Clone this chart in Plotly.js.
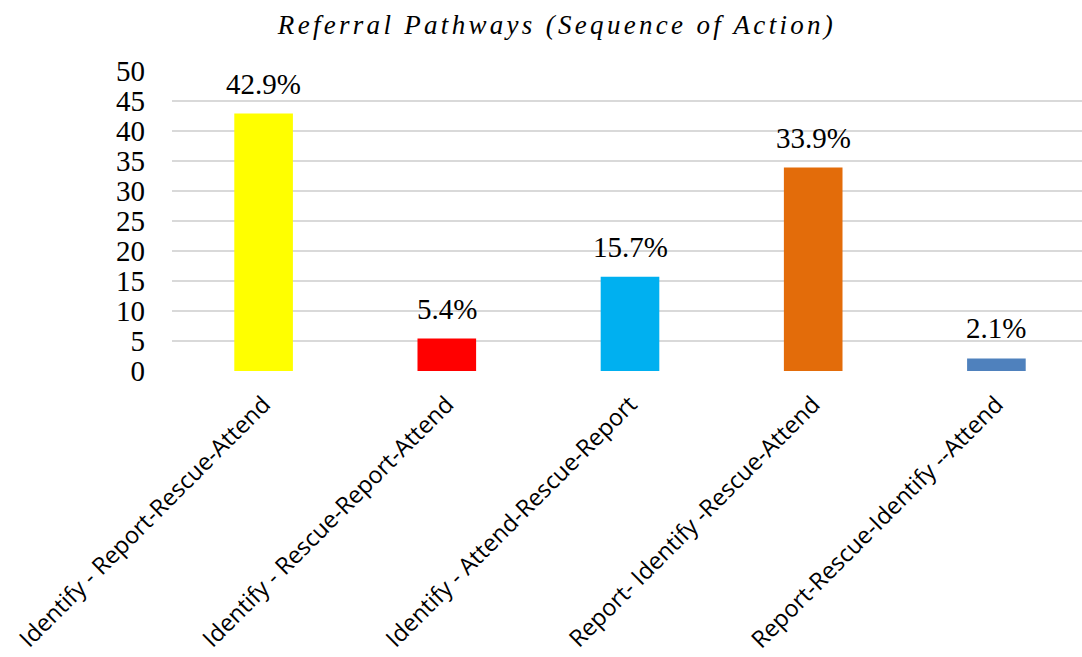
<!DOCTYPE html>
<html>
<head>
<meta charset="utf-8">
<script src="https://cdn.plot.ly/plotly-3.0.1.min.js"></script>
<style>
  html, body { margin: 0; padding: 0; overflow: hidden; background: #fff; }
  #chart { width: 1090px; height: 657px; }
</style>
</head>
<body>
<div id="chart"></div>
<script>
// Referral pathway orderings and the share of respondents choosing each
const pathways = [
  "Identify - Report-Rescue-Attend",
  "Identify - Rescue-Report-Attend",
  "Identify - Attend-Rescue-Report",
  "Report- Identify -Rescue-Attend",
  "Report-Rescue-Identify --Attend"
];
const shares = [42.9, 5.4, 15.7, 33.9, 2.1];
const barColors = ["#FFFF00", "#FF0000", "#00B0F0", "#E36C0A", "#4F81BD"];
const yTicks = [0, 5, 10, 15, 20, 25, 30, 35, 40, 45, 50];

const SERIF = "'Liberation Serif', 'Times New Roman', serif";
const SANS = "'Open Sans', sans-serif";

const trace = {
  type: "bar",
  x: pathways,
  y: shares,
  width: 0.32,
  marker: { color: barColors, line: { width: 0 } },
  hoverinfo: "x+y"
};

// Percentage labels above each bar
const labels = pathways.map((p, i) => ({
  x: p,
  y: shares[i],
  xref: "x",
  yref: "y",
  text: shares[i].toFixed(1) + "%",
  showarrow: false,
  yanchor: "bottom",
  yshift: 12,
  font: { family: SERIF, size: 29, color: "#000" }
}));

const layout = {
  width: 1090,
  height: 657,
  paper_bgcolor: "#fff",
  plot_bgcolor: "#fff",
  margin: { l: 172, r: 2, t: 71, b: 286 },
  showlegend: false,
  title: {
    text: "Referral Pathways (Sequence of Action)",
    x: 557 / 1090,
    xanchor: "center",
    y: 1 - 25 / 657,
    yanchor: "middle",
    font: { family: SERIF, size: 27, color: "#000", style: "italic" }
  },
  xaxis: {
    type: "category",
    tickangle: -45,
    ticks: "",
    showline: false,
    showgrid: false,
    ticklabelstandoff: 14,
    tickfont: { family: SANS, size: 23.5, color: "#000" }
  },
  yaxis: {
    range: [0, 50],
    tickvals: yTicks,
    ticktext: yTicks.map(String),
    showgrid: true,
    gridcolor: "#d9d9d9",
    gridwidth: 1.5,
    zeroline: false,
    showline: false,
    ticks: "",
    ticklabelstandoff: 26,
    tickfont: { family: SERIF, size: 29, color: "#000" },
    fixedrange: true
  },
  annotations: labels
};

Plotly.newPlot("chart", [trace], layout, { displayModeBar: false, staticPlot: true }).then(() => {
  document.querySelectorAll(".gtitle").forEach(t => t.style.letterSpacing = "3.3px");
});
</script>
</body>
</html>
